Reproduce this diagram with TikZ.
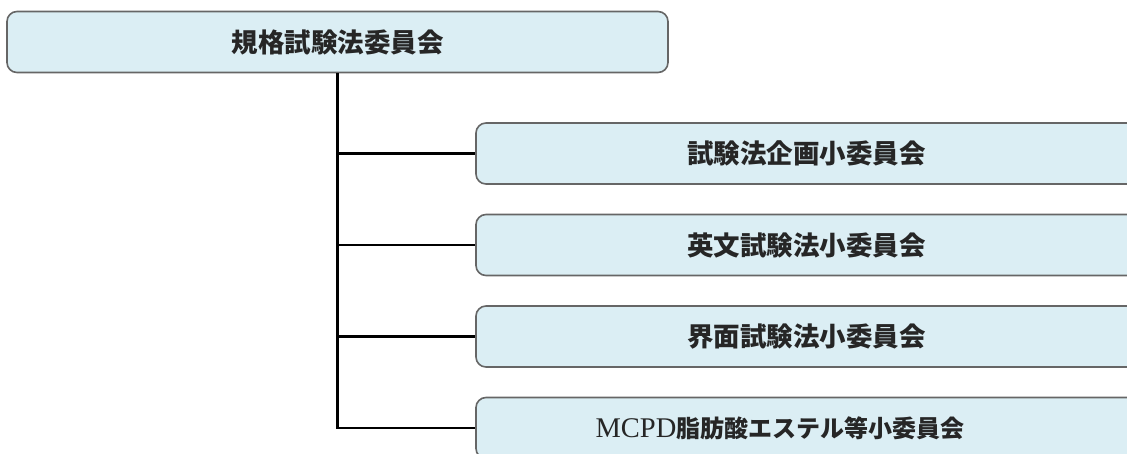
\documentclass[tikz,border=0pt]{standalone}
\usepackage{fontspec}
\newfontfamily\cjk{Noto Sans CJK JP}
\newfontfamily\latinserif{Liberation Serif}
\definecolor{boxfill}{HTML}{DBEEF4}
\definecolor{boxline}{HTML}{666666}
\tikzset{
  orgbox/.style={draw=boxline, line width=1.6pt, fill=boxfill, rounded corners=10pt,
    minimum width=661pt, minimum height=61pt, inner sep=0pt,
    font=\cjk\bfseries\fontsize{26.5}{31}\selectfont, text=black!85},
  link/.style={line width=2.8pt, black}
}
\begin{document}
\begin{tikzpicture}[x=1pt,y=-1pt]
\useasboundingbox (0,0) rectangle (1127,453);
\clip (0,0) rectangle (1127,453);
\node[orgbox] (top) at (337.5,42) {規格試験法委員会};
\node[orgbox] (c1) at (806.5,153.5) {試験法企画小委員会};
\node[orgbox] (c2) at (806.5,245) {英文試験法小委員会};
\node[orgbox] (c3) at (806.5,336.5) {界面試験法小委員会};
\node[orgbox] (c4) at (806.5,428) {{\mdseries\latinserif\fontsize{28.5}{31}\selectfont MCPD}{\fontsize{24}{31}\selectfont 脂肪酸エステル等小委員会}\hspace*{53pt}};
\draw[link] (top.south) -- (top.south |- c4.west) -- (c4.west);
\draw[link] (top.south |- c1.west) -- (c1.west);
\draw[link] (top.south |- c2.west) -- (c2.west);
\draw[link] (top.south |- c3.west) -- (c3.west);
\end{tikzpicture}
\end{document}
